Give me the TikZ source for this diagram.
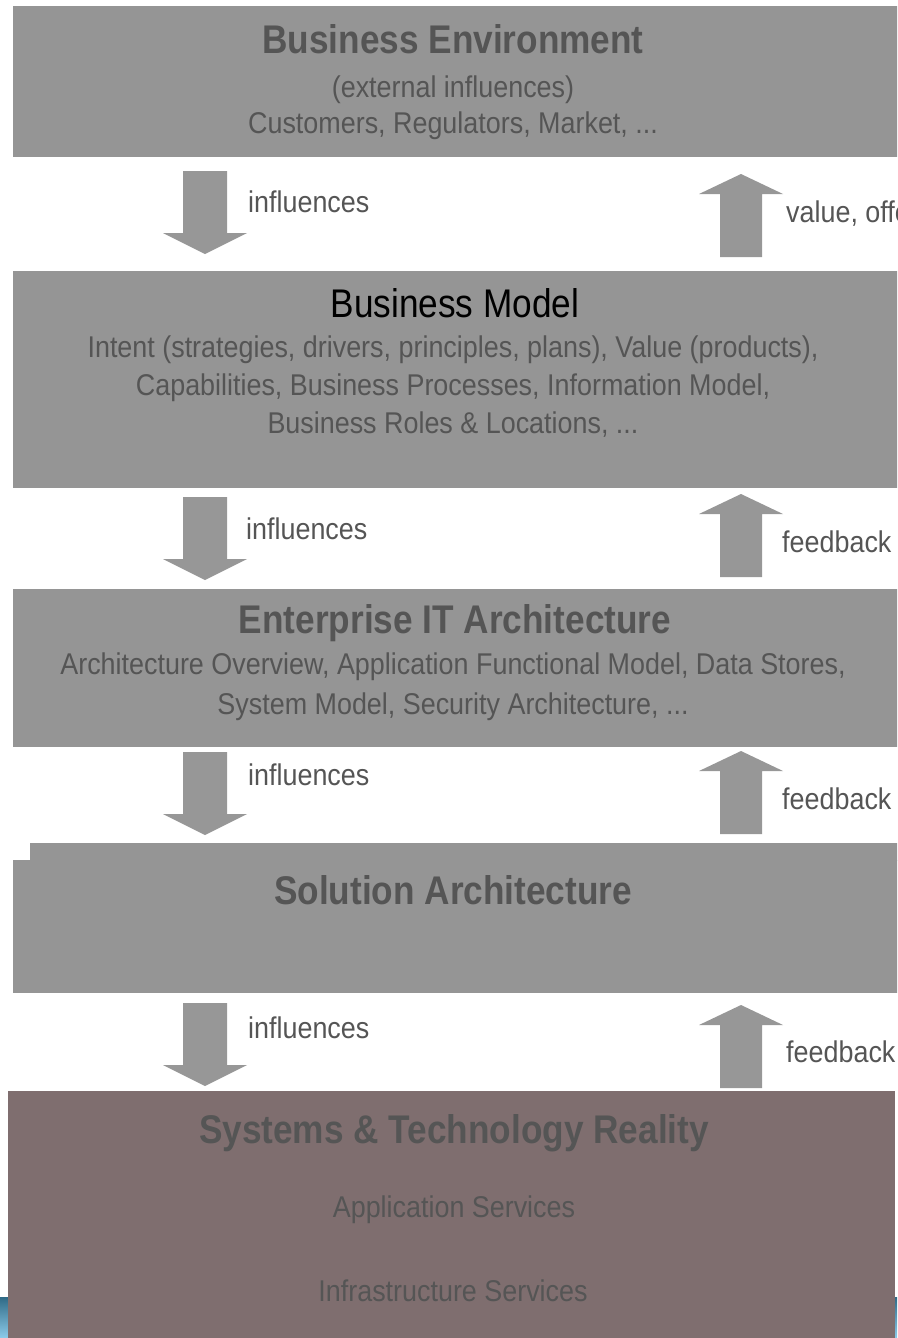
\documentclass[tikz,border=0pt]{standalone}
\usepackage{fontspec}
\setmainfont[FakeStretch=0.88]{Liberation Sans}
\newfontfamily\bodyfont[FakeStretch=0.897]{Liberation Sans}
\definecolor{boxgray}{HTML}{959595}
\definecolor{arrgray}{HTML}{979797}
\definecolor{txtgray}{HTML}{555555}
\definecolor{realbox}{HTML}{7F6E6F}
\definecolor{bluetop}{HTML}{2F6A86}
\definecolor{bluebot}{HTML}{8CCBEA}
\newcommand\blkdown[2]{% x-centre, top
  \fill[arrgray] (#1-22,#2) -- (#1+22,#2) -- (#1+22,#2+62) -- (#1+42,#2+62) -- (#1,#2+83) -- (#1-42,#2+62) -- (#1-22,#2+62) -- cycle;}
\newcommand\blkup[2]{% x-centre, tip
  \fill[arrgray] (#1,#2) -- (#1+42,#2+20) -- (#1+21,#2+20) -- (#1+21,#2+83) -- (#1-21,#2+83) -- (#1-21,#2+20) -- (#1-42,#2+20) -- cycle;}
\tikzset{
  layer/.style={rectangle, fill=boxgray, draw=none, inner sep=0pt, outer sep=0pt, minimum width=887pt},
  ttl/.style={anchor=base, text=txtgray, font=\fontsize{40}{44}\selectfont\bfseries, inner sep=0pt},
  body/.style={anchor=base, text=txtgray, font=\bodyfont\fontsize{30}{38}\selectfont, inner sep=0pt},
  lbl/.style={anchor=base west, text=txtgray, font=\bodyfont\fontsize{30}{38}\selectfont, inner sep=0pt},
}
\begin{document}
\begin{tikzpicture}[x=1pt,y=-1pt]
\useasboundingbox (0,0) rectangle (897,1338);
\clip (0,0) rectangle (897,1338);
% blue strips behind the bottom layer
\shade[top color=bluetop, bottom color=bluebot] (0,1297) rectangle (12,1338);
\shade[top color=bluetop, bottom color=bluebot] (890,1297) rectangle (897,1338);
% layers
\node[layer, minimum height=151pt] (env) at (456.5,81.5) {};
\node[layer, minimum height=217pt] (model) at (456.5,379.5) {};
\node[layer, minimum height=158pt] (eita) at (456.5,668) {};
\node[layer, minimum height=133pt] (sol) at (456.5,926.5) {};
\fill[boxgray] (30,843) rectangle (900,861);
\node[layer, minimum height=247pt, fill=realbox] (real) at (451.5,1214.5) {};
% texts
\node[ttl] (envT) at (453,54) {Business Environment};
\node[body] (envA) at (453,97) {(external influences)};
\node[body] (envB) at (453,133) {Customers, Regulators, Market, ...};
\node[anchor=base, inner sep=0pt, font=\fontsize{40}{44}\selectfont, text=black] (modT) at (455,317) {Business Model};
\node[body] (modA) at (453,357) {Intent (strategies, drivers, principles, plans), Value (products),};
\node[body] (modB) at (453,395) {Capabilities, Business Processes, Information Model,};
\node[body] (modC) at (453,433) {Business Roles \& Locations, ...};
\node[ttl] (eitT) at (455,633) {Enterprise IT Architecture};
\node[body] (eitA) at (453,674) {Architecture Overview, Application Functional Model, Data Stores,};
\node[body] (eitB) at (453,714) {System Model, Security Architecture, ...};
\node[ttl] (solT) at (453,904) {Solution Architecture};
\node[ttl] (realT) at (454,1143) {Systems \& Technology Reality};
\node[body] (realA) at (454,1217) {Application Services};
\node[body] (realB) at (453,1301) {Infrastructure Services};
% block arrows
\blkdown{205}{171}
\blkdown{205}{497}
\blkdown{205}{752}
\blkdown{205}{1003}
\blkup{741}{174}
\blkup{741}{494}
\blkup{741}{751}
\blkup{741}{1005}
% arrow labels
\node[lbl] (l1) at (248,212) {influences};
\node[lbl] (l2) at (246,539) {influences};
\node[lbl] (l3) at (248,785) {influences};
\node[lbl] (l4) at (248,1038) {influences};
\node[lbl] (r1) at (786,222) {value, offerings};
\node[lbl] (r2) at (782,552) {feedback};
\node[lbl] (r3) at (782,809) {feedback};
\node[lbl] (r4) at (786,1062) {feedback};
\end{tikzpicture}
\end{document}
